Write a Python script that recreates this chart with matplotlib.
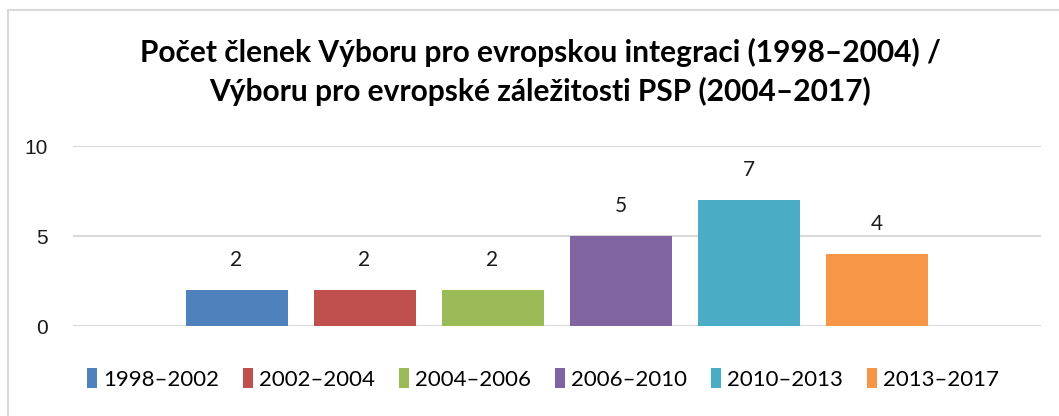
import numpy as np
import matplotlib.pyplot as plt
from matplotlib.patches import Rectangle

# data
periods = ["1998–2002", "2002–2004", "2004–2006", "2006–2010", "2010–2013", "2013–2017"]
counts = [2, 2, 2, 5, 7, 4]
colors = ["#4F81BD", "#C0504D", "#9BBB59", "#8064A2", "#4BACC6", "#F79646"]
yticks = [0, 5, 10]

title = ("Počet členek Výboru pro evropskou integraci (1998–2004) /\n"
         "Výboru pro evropské záležitosti PSP (2004–2017)")

W, H = 1059, 416
fig = plt.figure(figsize=(W / 100, H / 100), dpi=100)
fig.patch.set_facecolor("white")

# light grey chart border (Excel style), right/bottom run off the image
fig.add_artist(Rectangle((8 / W, -0.1), 1.2, 1 - 10 / H + 0.1, transform=fig.transFigure,
                         fill=False, edgecolor="#D9D9D9", linewidth=1.5))

ax = fig.add_axes([73 / W, 1 - 326 / H, (1041 - 73) / W, (326 - 146) / H])

step = 128 / 968
width = 102 / 968
x = (np.arange(len(counts)) - (len(counts) - 1) / 2) * step - 0.5 / 968
for xi, c, col, lab in zip(x, counts, colors, periods):
    ax.bar(xi, c, width=width, color=col, label=lab, zorder=3)
    ax.text(xi, c + 1.1, str(c), ha="center", va="bottom", fontsize=15,
            family="Lato", color="#1a1a1a")

ax.set_xlim(-0.5, 0.5)
ax.set_ylim(0, 10)
ax.set_yticks(yticks)
ax.set_yticklabels([str(t) for t in yticks], fontsize=15, family="Liberation Sans",
                   color="#1a1a1a")
ax.set_xticks([])
ax.tick_params(axis="y", length=0, pad=18)
ax.grid(axis="y", color="#D9D9D9", linewidth=1.5, zorder=0)
for s in ax.spines.values():
    s.set_visible(False)

fig.text(540 / W, 1 - 72 / H, title, ha="center", va="center", fontsize=21.5,
         fontweight="bold", family="Lato", linespacing=1.4)

leg = fig.legend(loc="center", bbox_to_anchor=(543 / W, 1 - 379 / H), ncol=6,
                 frameon=False, prop={"family": "Lato", "size": 16},
                 handlelength=0.45, handleheight=1.0, handletextpad=0.3, columnspacing=1.05)

fig.savefig("out.png", dpi=100)
